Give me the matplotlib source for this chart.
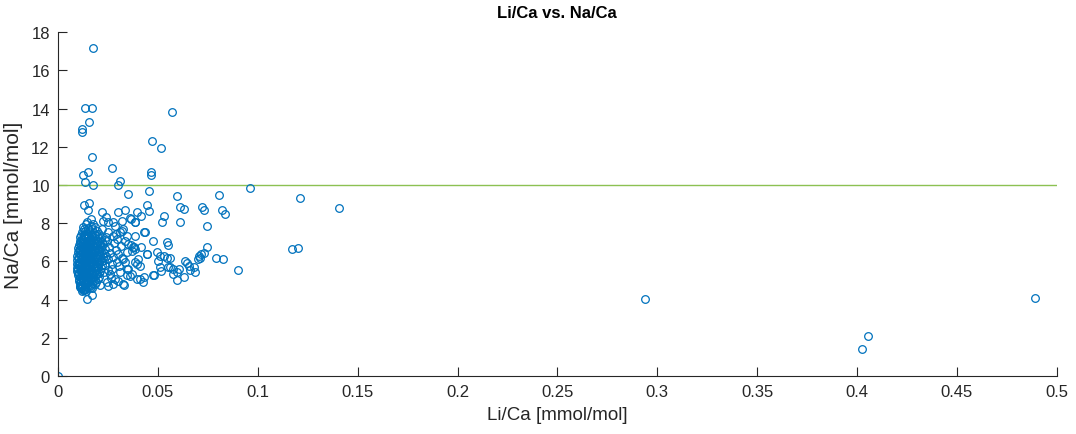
import numpy as np
import matplotlib
matplotlib.use("Agg")
import matplotlib.pyplot as plt
from matplotlib.ticker import FuncFormatter

plt.rcParams['font.family'] = ['Liberation Sans', 'DejaVu Sans']

# Li/Ca and Na/Ca ratios [mmol/mol], outliers and the sparse points first
li_ca = [
    0.0, 0.0175, 0.0134, 0.0172, 0.0155, 0.0120, 0.0120, 0.0570, 0.0469, 0.0514,
    0.0170, 0.0270, 0.0127, 0.0152, 0.0466, 0.0466, 0.0135, 0.0174, 0.0299, 0.0310,
    0.0350, 0.0454, 0.0597, 0.0807, 0.0961, 0.1213, 0.1406, 0.0130, 0.0157, 0.0149,
    0.0220, 0.0302, 0.0337, 0.0397, 0.0416, 0.0386, 0.0366, 0.0444, 0.0453, 0.0531,
    0.0520, 0.0610, 0.0628, 0.0720, 0.0730, 0.0820, 0.0836, 0.0610, 0.0748, 0.0430,
    0.0477, 0.0547, 0.0552, 0.0748, 0.0366, 0.0378, 0.0370, 0.0386, 0.0414, 0.0494,
    0.0447, 0.0532, 0.0544, 0.0560, 0.0718, 0.0730, 0.0707, 0.0700, 0.0710, 0.0790,
    0.0828, 0.0636, 0.0644, 0.0657, 0.0499, 0.0510, 0.0514, 0.0402, 0.0397, 0.0410,
    0.0560, 0.0574, 0.0594, 0.0577, 0.0607, 0.0682, 0.0687, 0.0660, 0.0482, 0.0630,
    0.0594, 0.0410, 0.0427, 0.0430, 0.0360, 0.1170, 0.1203, 0.0901, 0.2938, 0.4027,
    0.4054, 0.4893, 0.0165, 0.0177, 0.0227, 0.0240, 0.0252, 0.0277, 0.0285, 0.0319,
    0.0324, 0.0310, 0.0360, 0.0385, 0.0435, 0.0294, 0.0352, 0.0377, 0.0444, 0.0510,
    0.0336, 0.0352, 0.0369, 0.0347, 0.0330, 0.0477, 0.0552, 0.0147, 0.0169, 0.0124,
    0.0135, 0.0110, 0.0210, 0.0252, 0.0277, 0.0302, 0.0219, 0.0252, 0.0277, 0.0319,
    0.0344, 0.0385, 0.0327, 0.0344, 0.0385, 0.0394, 0.0327, 0.0310, 0.0269, 0.0285,
    0.0244, 0.0245, 0.0255, 0.0262, 0.0250, 0.0268, 0.0258, 0.0280, 0.0290, 0.0275,
    0.0300, 0.0295, 0.0315, 0.0320, 0.0305, 0.0248, 0.0265, 0.0240, 0.0290, 0.0335,
    0.0345,
]
na_ca = [
    0.00, 17.16, 14.03, 14.05, 13.28, 12.93, 12.76, 13.84, 12.32, 11.94,
    11.44, 10.89, 10.54, 10.70, 10.66, 10.54, 10.17, 10.00, 10.00, 10.22,
    9.53, 9.69, 9.40, 9.49, 9.86, 9.32, 8.78, 8.95, 9.06, 8.71,
    8.60, 8.60, 8.71, 8.60, 8.39, 8.08, 8.22, 8.95, 8.65, 8.37,
    8.04, 8.83, 8.72, 8.83, 8.70, 8.70, 8.50, 8.08, 7.85, 7.52,
    7.08, 7.00, 6.87, 6.78, 6.86, 6.73, 6.56, 6.65, 6.73, 6.50,
    6.38, 6.30, 6.18, 6.16, 6.38, 6.44, 6.27, 6.13, 6.16, 6.16,
    6.13, 6.04, 5.90, 5.77, 6.04, 5.69, 5.51, 6.13, 5.86, 5.77,
    5.69, 5.60, 5.43, 5.34, 5.60, 5.69, 5.43, 5.56, 5.29, 5.21,
    5.03, 5.08, 4.94, 5.17, 5.25, 6.66, 6.70, 5.53, 4.03, 1.41,
    2.11, 4.10, 8.22, 7.96, 8.13, 8.30, 8.04, 8.04, 7.83, 8.13,
    7.70, 7.56, 8.25, 8.04, 7.52, 7.17, 6.91, 6.73, 6.39, 6.30,
    5.95, 5.60, 5.34, 5.30, 4.76, 5.30, 5.69, 4.03, 4.24, 4.52,
    4.55, 4.73, 4.76, 4.73, 4.82, 4.99, 7.70, 7.52, 7.35, 7.61,
    7.35, 7.35, 6.13, 5.60, 5.95, 5.08, 4.82, 5.43, 5.60, 5.08,
    4.90, 7.05, 6.75, 6.45, 6.15, 5.85, 5.35, 6.95, 6.60, 6.25,
    6.40, 5.95, 6.80, 6.20, 5.75, 5.55, 5.15, 7.30, 7.45, 7.05,
    6.50,
]

# dense group of samples at low Li/Ca
li_ca_core = [
    0.0126, 0.0139, 0.0151, 0.0163, 0.0172, 0.0186, 0.0146, 0.0131,
    0.0118, 0.0128, 0.0137, 0.0147, 0.0157, 0.0166, 0.0179, 0.0193, 0.0206,
    0.0112, 0.0121, 0.0131, 0.0141, 0.0152, 0.0162, 0.0171, 0.0184, 0.0197, 0.0213,
    0.0108, 0.0118, 0.0127, 0.0136, 0.0146, 0.0156, 0.0166, 0.0177, 0.0188, 0.0202, 0.0219, 0.0233,
    0.0104, 0.0113, 0.0123, 0.0133, 0.0142, 0.0151, 0.0161, 0.0170, 0.0181, 0.0194, 0.0208, 0.0223,
    0.0101, 0.0110, 0.0119, 0.0129, 0.0138, 0.0148, 0.0157, 0.0167, 0.0178, 0.0190, 0.0204, 0.0217, 0.0237,
    0.0099, 0.0108, 0.0117, 0.0126, 0.0136, 0.0145, 0.0154, 0.0164, 0.0175, 0.0186, 0.0199, 0.0213, 0.0229,
    0.0097, 0.0106, 0.0115, 0.0124, 0.0134, 0.0143, 0.0152, 0.0162, 0.0172, 0.0184, 0.0196, 0.0210, 0.0225, 0.0242,
    0.0096, 0.0105, 0.0114, 0.0123, 0.0132, 0.0141, 0.0150, 0.0160, 0.0170, 0.0181, 0.0193, 0.0206, 0.0220,
    0.0094, 0.0103, 0.0112, 0.0121, 0.0130, 0.0139, 0.0148, 0.0158, 0.0168, 0.0179, 0.0191, 0.0204, 0.0218, 0.0234,
    0.0093, 0.0102, 0.0111, 0.0120, 0.0129, 0.0138, 0.0147, 0.0157, 0.0167, 0.0178, 0.0190, 0.0202, 0.0216,
    0.0096, 0.0105, 0.0114, 0.0123, 0.0132, 0.0141, 0.0151, 0.0161, 0.0172, 0.0184, 0.0197, 0.0211, 0.0228,
    0.0100, 0.0109, 0.0118, 0.0127, 0.0136, 0.0146, 0.0156, 0.0166, 0.0177, 0.0189, 0.0203,
    0.0104, 0.0113, 0.0122, 0.0131, 0.0141, 0.0151, 0.0162, 0.0174, 0.0187, 0.0201,
    0.0108, 0.0117, 0.0127, 0.0137, 0.0148, 0.0159, 0.0171, 0.0184,
    0.0112, 0.0122, 0.0133, 0.0145, 0.0158, 0.0172,
    0.0118, 0.0129, 0.0141,
    0.0115, 0.0133, 0.0150, 0.0168, 0.0187,
    0.0109, 0.0123, 0.0141, 0.0160, 0.0182, 0.0212,
    0.0106, 0.0124, 0.0142, 0.0161, 0.0183, 0.0206,
    0.0102, 0.0119, 0.0138, 0.0157, 0.0178, 0.0201, 0.0232,
    0.0099, 0.0116, 0.0134, 0.0153, 0.0173, 0.0197,
    0.0101, 0.0118, 0.0136, 0.0155, 0.0176, 0.0205,
    0.0107, 0.0126, 0.0145, 0.0166, 0.0192,
    0.0115, 0.0138, 0.0164,
]
na_ca_core = [
    7.82, 7.95, 7.74, 7.88, 7.71, 7.79, 8.05, 7.68,
    7.52, 7.41, 7.58, 7.46, 7.55, 7.38, 7.49, 7.57, 7.44,
    7.28, 7.19, 7.33, 7.22, 7.30, 7.17, 7.27, 7.21, 7.32, 7.24,
    7.06, 6.98, 7.11, 7.02, 7.08, 6.97, 7.05, 7.12, 6.99, 7.07, 7.01, 7.10,
    6.88, 6.79, 6.92, 6.83, 6.90, 6.78, 6.86, 6.93, 6.81, 6.89, 6.80, 6.91,
    6.68, 6.59, 6.72, 6.63, 6.70, 6.58, 6.66, 6.74, 6.61, 6.69, 6.57, 6.71, 6.64,
    6.48, 6.39, 6.53, 6.44, 6.50, 6.37, 6.46, 6.55, 6.42, 6.49, 6.38, 6.52, 6.45,
    6.28, 6.19, 6.33, 6.24, 6.30, 6.17, 6.26, 6.34, 6.21, 6.29, 6.18, 6.31, 6.23, 6.27,
    6.08, 5.99, 6.12, 6.03, 6.10, 5.97, 6.06, 6.14, 6.01, 6.09, 5.98, 6.11, 6.04,
    5.88, 5.79, 5.92, 5.83, 5.90, 5.77, 5.86, 5.94, 5.81, 5.89, 5.78, 5.91, 5.84, 5.80,
    5.68, 5.59, 5.72, 5.63, 5.70, 5.57, 5.66, 5.74, 5.61, 5.69, 5.58, 5.71, 5.64,
    5.48, 5.39, 5.52, 5.43, 5.50, 5.37, 5.46, 5.54, 5.41, 5.49, 5.38, 5.51, 5.44,
    5.28, 5.19, 5.32, 5.23, 5.30, 5.17, 5.26, 5.34, 5.21, 5.29, 5.18,
    5.08, 4.99, 5.12, 5.03, 5.10, 4.97, 5.06, 5.14, 5.01, 5.09,
    4.88, 4.79, 4.92, 4.83, 4.90, 4.78, 4.86, 4.81,
    4.68, 4.61, 4.72, 4.64, 4.70, 4.62,
    4.48, 4.53, 4.45,
    7.40, 7.36, 7.42, 7.36, 7.40,
    6.98, 7.02, 6.95, 7.01, 6.96, 6.92,
    6.60, 6.55, 6.62, 6.56, 6.60, 6.63,
    6.20, 6.15, 6.22, 6.16, 6.21, 6.25, 6.10,
    5.82, 5.75, 5.84, 5.76, 5.85, 5.72,
    5.42, 5.36, 5.44, 5.40, 5.33, 5.40,
    5.00, 4.95, 5.02, 4.96, 4.93,
    4.62, 4.58, 4.66,
]

na_limit = 10
x_ticks = np.arange(0, 0.501, 0.05)
y_ticks = np.arange(0, 19, 2)

x = np.array(li_ca + li_ca_core)
y = np.array(na_ca + na_ca_core)

fig = plt.figure(figsize=(10.76, 4.35), dpi=100)
ax = fig.add_axes([0.054, 0.133, 0.928, 0.791])

ax.plot([0, 0.5], [na_limit, na_limit], color='#8CC152', linewidth=1.0)
ax.plot(x, y, 'o', markersize=5.5, markerfacecolor='none',
        markeredgecolor='#0072BD', markeredgewidth=0.9, linestyle='none')

ax.set_xlim(0, 0.5)
ax.set_ylim(0, 18)
ax.set_xticks(x_ticks)
ax.set_yticks(y_ticks)
ax.xaxis.set_major_formatter(FuncFormatter(lambda v, p: '%g' % round(v, 2)))

for side in ['top', 'right']:
    ax.spines[side].set_visible(False)
for side in ['left', 'bottom']:
    ax.spines[side].set_color('#262626')
    ax.spines[side].set_linewidth(0.8)
ax.tick_params(direction='in', length=6.5, width=0.8, colors='#262626',
               labelsize=12, pad=6)

ax.set_xlabel('Li/Ca [mmol/mol]', fontsize=13.5, color='#262626', labelpad=5)
ax.set_ylabel('Na/Ca [mmol/mol]', fontsize=15, color='#262626', labelpad=6)
ax.set_title('Li/Ca vs. Na/Ca', fontsize=12, fontweight='bold', color='#000000', pad=11)

fig.savefig('out.png', dpi=100)
